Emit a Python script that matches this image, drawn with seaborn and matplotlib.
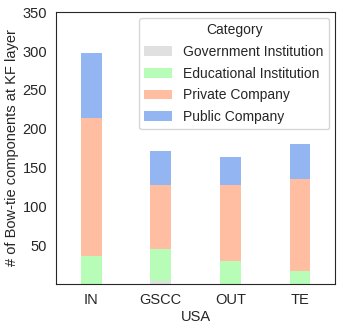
import numpy as np
import pandas as pd
import matplotlib
matplotlib.use('Agg')
import matplotlib.pyplot as plt
import matplotlib.colors as mcolors
from matplotlib.patches import Patch
import seaborn as sns

# data
layers = ['IN', 'GSCC', 'OUT', 'TE']
categories = ['Government Institution', 'Educational Institution', 'Private Company', 'Public Company']
government = [0, 3, 0, 0]
educational = [36, 42, 30, 17]
private = [178, 82, 97, 118]
public = [83, 44, 36, 45]
base_colors = ['lightgrey', 'palegreen', 'lightsalmon', 'cornflowerblue']

sns.set_style('white')
plt.rcParams['font.family'] = ['Liberation Sans', 'DejaVu Sans']
fs = 10.5

# blend with white like alpha=0.7, so overlapping bars stay flat
def soften(c, a=0.7):
    r = np.array(mcolors.to_rgb(c))
    return tuple(a * r + (1 - a))

colors = [soften(c) for c in base_colors]

df = pd.DataFrame({'layer': layers, 'Government Institution': government,
                   'Educational Institution': educational,
                   'Private Company': private, 'Public Company': public})
cum = df[categories].cumsum(axis=1)
cum['layer'] = layers

fig, ax = plt.subplots(figsize=(3.41, 3.30), dpi=100)
# draw from the tallest stack down so lower segments sit in front
for cat, col in reversed(list(zip(categories, colors))):
    sns.barplot(data=cum, x='layer', y=cat, color=col, width=0.3,
                saturation=1, linewidth=0, ax=ax)

ax.set_ylim(0, 350)
ax.set_yticks([50, 100, 150, 200, 250, 300, 350])
ax.set_ylabel('# of Bow-tie components at KF layer', fontsize=fs)
ax.yaxis.set_label_coords(-0.135, 0.5)
ax.set_xlabel('USA', fontsize=fs, labelpad=2)
ax.tick_params(labelsize=fs, pad=3)
for s in ax.spines.values():
    s.set_color('0.15')

handles = [Patch(facecolor=c, linewidth=0, label=l) for c, l in zip(colors, categories)]
ax.legend(handles=handles, title='Category', loc='upper right',
          fontsize=10, title_fontsize=10, borderaxespad=0.4, labelspacing=0.55)

plt.subplots_adjust(left=0.165, right=0.982, top=0.963, bottom=0.14)
plt.savefig('out.png', dpi=100)
